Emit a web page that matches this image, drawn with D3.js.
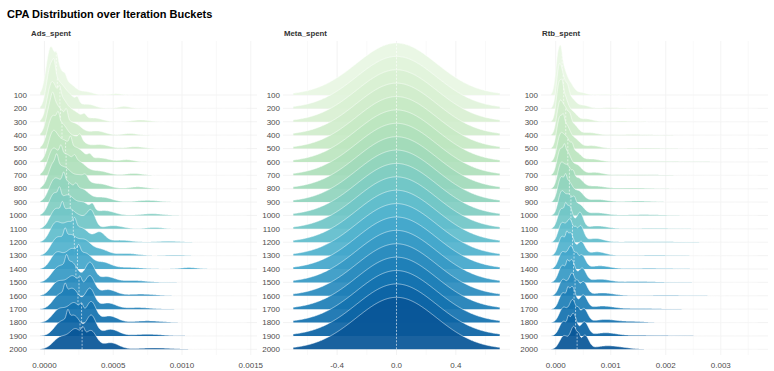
<!DOCTYPE html>
<html>
<head>
<meta charset="utf-8">
<script src="https://cdn.jsdelivr.net/npm/d3@7"></script>
<style>
  body { margin: 0; background: #fff; }
  svg { font-family: "Liberation Sans", Arial, sans-serif; }
  .grid line { stroke: #ebebeb; }
  .tick-label { font-size: 8px; fill: #4d4d4d; }
</style>
</head>
<body>
<svg id="chart" width="774" height="371"></svg>
<script>
// iteration buckets (one ridge each)
const buckets = [100, 200, 300, 400, 500, 600, 700, 800, 900, 1000,
                 1100, 1200, 1300, 1400, 1500, 1600, 1700, 1800, 1900, 2000];

const adsBumps = [
  [[0.4,0.3,0.45],[1.0,0.35,0.3],[1.8,0.45,0.17],[3.0,0.5,0.06],[5.2,0.4,0.02],[0.9,0.1,0.03],[1.5,0.12,0.02]],
  [[0.45,0.3,0.42],[1.1,0.4,0.3],[1.9,0.45,0.18],[3.2,0.5,0.07],[5.8,0.4,0.03],[0.7,0.1,0.03],[2.4,0.12,0.02]],
  [[0.5,0.32,0.4],[1.2,0.4,0.3],[2.1,0.5,0.18],[3.6,0.6,0.08],[7.0,0.6,0.04],[1.1,0.1,0.03],[2.9,0.15,0.02]],
  [[0.5,0.33,0.38],[1.2,0.4,0.3],[2.2,0.5,0.2],[3.8,0.6,0.09],[6.2,0.5,0.03],[1.6,0.1,0.03],[0.6,0.1,0.02]],
  [[0.55,0.35,0.36],[1.3,0.4,0.3],[2.3,0.5,0.2],[4.0,0.7,0.1],[6.6,0.6,0.04],[1.0,0.1,0.03],[2.6,0.12,0.02]],
  [[0.6,0.35,0.34],[1.4,0.45,0.3],[2.4,0.5,0.22],[4.0,0.7,0.1],[6.0,0.5,0.04],[1.9,0.1,0.03],[3.3,0.15,0.02]],
  [[0.6,0.38,0.33],[1.5,0.45,0.3],[2.5,0.5,0.22],[3.9,0.7,0.11],[6.5,0.6,0.04],[1.2,0.1,0.03],[2.2,0.12,0.02]],
  [[0.65,0.38,0.32],[1.5,0.45,0.3],[2.6,0.5,0.22],[4.0,0.7,0.12],[6.8,0.6,0.04],[0.9,0.1,0.03],[3.0,0.15,0.02]],
  [[0.7,0.4,0.3],[1.6,0.45,0.3],[2.7,0.5,0.22],[4.2,0.7,0.12],[7.5,0.8,0.05],[1.4,0.1,0.03],[2.3,0.12,0.02]],
  [[0.7,0.4,0.3],[1.7,0.45,0.3],[2.8,0.5,0.22],[4.4,0.7,0.12],[7.8,0.8,0.05],[1.1,0.1,0.03],[3.5,0.15,0.03]],
  [[0.8,0.42,0.28],[1.8,0.45,0.3],[2.7,0.4,0.14],[3.4,0.3,0.18],[5.0,0.7,0.08],[8.0,0.6,0.03],[1.3,0.1,0.03]],
  [[0.8,0.42,0.28],[1.8,0.45,0.3],[2.8,0.45,0.2],[4.0,0.4,0.14],[5.5,0.8,0.06],[9.0,0.8,0.03],[2.2,0.12,0.03]],
  [[0.9,0.45,0.27],[1.9,0.45,0.3],[2.9,0.45,0.22],[4.0,0.6,0.14],[6.0,0.8,0.06],[9.5,0.8,0.02],[1.5,0.1,0.03]],
  [[0.9,0.45,0.26],[2.0,0.45,0.3],[3.0,0.45,0.22],[4.2,0.6,0.14],[6.0,1.0,0.06],[10.5,0.6,0.03],[2.5,0.12,0.03]],
  [[1.0,0.5,0.26],[2.0,0.45,0.3],[3.3,0.35,0.24],[4.5,0.6,0.12],[6.5,0.9,0.06],[1.6,0.1,0.03]],
  [[1.0,0.5,0.25],[2.1,0.45,0.3],[3.3,0.35,0.24],[4.6,0.6,0.13],[7.0,1.0,0.06],[2.6,0.12,0.03]],
  [[1.1,0.5,0.25],[2.1,0.45,0.3],[3.3,0.35,0.25],[4.6,0.6,0.13],[6.8,0.9,0.05],[1.5,0.1,0.03]],
  [[1.1,0.5,0.24],[2.2,0.45,0.3],[3.4,0.35,0.25],[4.7,0.6,0.14],[7.5,1.0,0.06],[2.7,0.12,0.03]],
  [[1.2,0.5,0.24],[2.2,0.45,0.3],[3.4,0.35,0.25],[4.8,0.6,0.14],[7.5,1.0,0.06],[1.7,0.1,0.03]],
  [[1.2,0.55,0.24],[2.3,0.45,0.3],[3.4,0.4,0.25],[4.8,0.6,0.14],[8.0,1.2,0.06],[2.8,0.12,0.03]]
];

// meta ridges are all the same bell, centred on 0
const metaMean = [0, 0, 0, 0, 0, 0, 0, 0, 0, 0, 0, 0, 0, 0, 0, 0, 0, 0, 0, 0];
const metaSd = [0.27, 0.27, 0.27, 0.27, 0.27, 0.27, 0.27, 0.27, 0.27, 0.27,
                0.27, 0.27, 0.27, 0.27, 0.27, 0.27, 0.27, 0.27, 0.27, 0.27];

const rtbBumps = [
  [[0.5,0.5,0.45],[1.4,0.6,0.3],[2.6,0.7,0.17],[4.5,1.0,0.06],[9,1.5,0.02],[1.0,0.2,0.03]],
  [[0.6,0.5,0.42],[1.5,0.6,0.3],[2.8,0.8,0.18],[5,1.0,0.07],[10,2,0.03],[2.2,0.25,0.03]],
  [[0.6,0.5,0.4],[1.6,0.6,0.3],[3,0.8,0.18],[5.5,1.2,0.08],[12,2.5,0.04],[1.2,0.2,0.03]],
  [[0.7,0.55,0.38],[1.8,0.6,0.3],[3.2,0.8,0.19],[6,1.5,0.09],[14,3,0.04],[2.6,0.25,0.03]],
  [[0.7,0.55,0.36],[1.9,0.65,0.3],[3.4,0.9,0.2],[6.5,1.5,0.1],[16,4,0.05],[1.4,0.2,0.03]],
  [[0.8,0.6,0.34],[2.0,0.65,0.3],[3.6,0.9,0.2],[6.5,1.5,0.1],[17,5,0.06],[3.0,0.25,0.03]],
  [[0.8,0.6,0.33],[2.1,0.65,0.3],[3.8,0.9,0.21],[7,1.5,0.1],[15,4,0.06],[1.6,0.2,0.03]],
  [[0.9,0.6,0.32],[2.2,0.65,0.3],[4.0,0.9,0.21],[7,1.8,0.11],[14,3,0.05],[3.2,0.25,0.03]],
  [[0.9,0.6,0.31],[2.3,0.7,0.3],[4.1,0.9,0.22],[7.5,1.8,0.11],[15,2.5,0.06],[1.8,0.2,0.03]],
  [[1.0,0.6,0.3],[2.4,0.7,0.3],[4.2,0.9,0.22],[7.5,1.8,0.11],[16,3,0.06],[3.4,0.25,0.03]],
  [[1.0,0.65,0.29],[2.5,0.6,0.3],[4.4,0.6,0.22],[7.5,1.8,0.12],[18,5,0.06],[1.8,0.2,0.03]],
  [[1.1,0.65,0.28],[2.6,0.6,0.3],[4.5,0.6,0.22],[7.2,1.5,0.13],[17,5,0.06],[3.6,0.25,0.03]],
  [[1.1,0.65,0.28],[2.7,0.6,0.3],[4.6,0.7,0.22],[7.5,1.5,0.13],[18,5,0.06],[2.0,0.2,0.03]],
  [[1.2,0.7,0.27],[2.8,0.6,0.3],[4.7,0.7,0.22],[8,1.8,0.13],[17,4,0.06],[3.8,0.25,0.03]],
  [[1.2,0.7,0.27],[2.9,0.6,0.3],[4.8,0.7,0.22],[8,1.8,0.13],[15,3,0.06],[2.1,0.2,0.03]],
  [[1.3,0.7,0.26],[3.0,0.6,0.3],[5.0,0.7,0.22],[8.5,2,0.13],[20,5,0.05],[4.0,0.25,0.03]],
  [[1.3,0.7,0.26],[3.0,0.6,0.3],[5.0,0.7,0.22],[8.5,2,0.14],[15,3,0.05],[2.2,0.2,0.03]],
  [[1.4,0.75,0.26],[3.1,0.6,0.3],[5.1,0.7,0.22],[9,2,0.14],[14,2,0.05],[4.1,0.25,0.03]],
  [[1.4,0.75,0.25],[3.2,0.6,0.3],[5.2,0.7,0.22],[9,2,0.14],[16,4,0.05],[2.3,0.2,0.03]],
  [[1.5,0.8,0.25],[3.3,0.6,0.3],[5.3,0.7,0.22],[9,2,0.14],[12,2,0.06],[4.2,0.25,0.03]]
];

// observed value range of each panel, and its axis ticks
const adsRange = [-0.00003, 0.00147];
const metaRange = [-0.695, 0.695];
const rtbRange = [-0.00008, 0.00367];
const adsTicks = [0, 0.0005, 0.001, 0.0015];
const metaTicks = [-0.4, 0, 0.4];
const rtbTicks = [0, 0.001, 0.002, 0.003];

const panels = [
  { name: 'Ads_spent', left: 30, unit: 1e-4, range: adsRange, ticks: adsTicks, fmt: '.4f', maxH: 50,
    bumps: adsBumps },
  { name: 'Meta_spent', left: 283, unit: 1, range: metaRange, ticks: metaTicks, fmt: '.1f', maxH: 52,
    bumps: metaMean.map((m, i) => [[m, metaSd[i], 1]]) },
  { name: 'Rtb_spent', left: 541, unit: 1e-4, range: rtbRange, ticks: rtbTicks, fmt: '.3f', maxH: 50,
    bumps: rtbBumps }
];

const panelW = 227, panelTop = 41, panelBottom = 355;

const svg = d3.select('#chart');

svg.append('text')
  .attr('x', 7).attr('y', 17.5)
  .style('font-size', '11px').style('font-weight', 'bold').style('fill', '#000')
  .text('CPA Distribution over Iteration Buckets');

const yScale = d3.scalePoint().domain(buckets).range([95, 349.3]);
const color = d3.scaleSequential(t => d3.interpolateGnBu(0.08 + 0.85 * t)).domain([0, buckets.length - 1]);

function density(bumps, unit, x) {
  let s = 0;
  bumps.forEach(([c, sd, w]) => {
    const z = (x - c * unit) / (sd * unit);
    s += w * Math.exp(-0.5 * z * z) / (sd * unit * Math.sqrt(2 * Math.PI));
  });
  return s;
}

panels.forEach(p => {
  const pad = (p.range[1] - p.range[0]) * 0.05;
  const x = d3.scaleLinear()
    .domain([p.range[0] - pad, p.range[1] + pad])
    .range([p.left, p.left + panelW]);

  const g = svg.append('g');

  // grid
  const grid = g.append('g').attr('class', 'grid');
  const step = p.ticks[1] - p.ticks[0];
  const minor = [];
  p.ticks.forEach(t => {
    [t - step / 2, t + step / 2].forEach(v => {
      if (x(v) > p.left && x(v) < p.left + panelW && !minor.some(m => Math.abs(m - v) < step / 10)) minor.push(v);
    });
  });
  grid.selectAll('.minor').data(minor).join('line')
    .attr('x1', d => x(d)).attr('x2', d => x(d))
    .attr('y1', panelTop).attr('y2', panelBottom)
    .attr('stroke-width', 0.3);
  grid.selectAll('.major').data(p.ticks).join('line')
    .attr('x1', d => x(d)).attr('x2', d => x(d))
    .attr('y1', panelTop).attr('y2', panelBottom)
    .attr('stroke-width', 0.6);
  grid.selectAll('.hline').data(buckets).join('line')
    .attr('x1', p.left).attr('x2', p.left + panelW)
    .attr('y1', d => yScale(d)).attr('y2', d => yScale(d))
    .attr('stroke-width', 0.6);

  // density curves on a grid over the observed range
  const n = 400;
  const xs = d3.range(n + 1).map(j => p.range[0] + (p.range[1] - p.range[0]) * j / n);
  const curves = p.bumps.map(b => xs.map(v => [v, density(b, p.unit, v)]));
  const maxD = d3.max(curves, c => d3.max(c, d => d[1]));
  const k = p.maxH / maxD;

  curves.forEach((c, i) => {
    const base = yScale(buckets[i]);
    const area = d3.area().x(d => x(d[0])).y0(base).y1(d => base - d[1] * k);
    const line = d3.line().x(d => x(d[0])).y(d => base - d[1] * k);

    g.append('path')
      .attr('d', area(c))
      .attr('fill', color(i))
      .attr('fill-opacity', 0.93);
    g.append('path')
      .attr('d', line(c))
      .attr('fill', 'none')
      .attr('stroke', '#fff')
      .attr('stroke-width', 0.5);

    // median line
    const cum = [0];
    for (let j = 1; j < c.length; j++) cum.push(cum[j - 1] + (c[j][1] + c[j - 1][1]) / 2);
    const half = cum[cum.length - 1] / 2;
    const jm = cum.findIndex(v => v >= half);
    g.append('line')
      .attr('x1', x(c[jm][0])).attr('x2', x(c[jm][0]))
      .attr('y1', base).attr('y2', base - c[jm][1] * k)
      .attr('stroke', '#fff')
      .attr('stroke-width', 0.6)
      .attr('stroke-dasharray', '2,1.5');
  });

  // axes text
  g.selectAll('.ylab').data(buckets).join('text')
    .attr('class', 'tick-label')
    .attr('x', p.left - 3)
    .attr('y', d => yScale(d))
    .attr('dy', '0.35em')
    .attr('text-anchor', 'end')
    .text(d => d);

  g.selectAll('.xlab').data(p.ticks).join('text')
    .attr('class', 'tick-label')
    .attr('x', d => x(d))
    .attr('y', 368)
    .attr('text-anchor', 'middle')
    .text(d => d3.format(p.fmt)(d).replace('−', '-'));

  g.append('text')
    .attr('x', p.left + 1)
    .attr('y', 36)
    .style('font-size', '7.8px')
    .style('font-weight', 'bold')
    .style('fill', '#333')
    .text(p.name);
});
</script>
</body>
</html>
